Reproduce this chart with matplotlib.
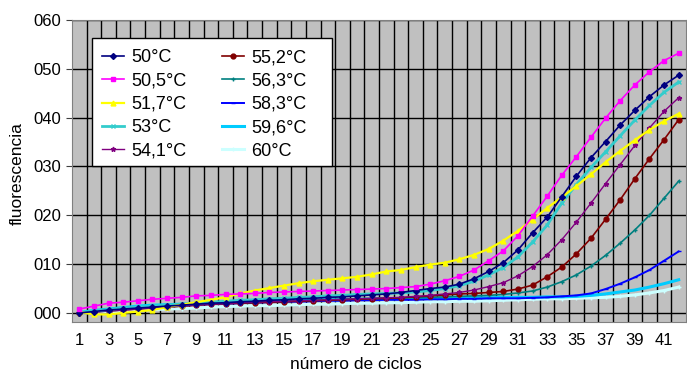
import numpy as np
import matplotlib
matplotlib.use('Agg')
import matplotlib.pyplot as plt
from matplotlib.patches import Rectangle

plt.rcParams['font.family'] = ['Liberation Sans', 'DejaVu Sans']

ciclos = np.arange(1, 43)

t50 = [0.0, 0.3, 0.6, 0.8, 1.0, 1.2, 1.4, 1.6, 1.8, 2.0, 2.1, 2.3, 2.4, 2.6, 2.7,
       2.9, 3.0, 3.2, 3.3, 3.5, 3.7, 3.9, 4.2, 4.6, 5.0, 5.3, 5.9, 7.0, 8.5, 10.3,
       12.9, 16.4, 19.6, 23.8, 28.0, 31.8, 35.1, 38.5, 41.5, 44.3, 46.7, 48.7]
t50_5 = [0.8, 1.4, 2.0, 2.2, 2.5, 2.8, 3.0, 3.2, 3.5, 3.6, 3.8, 3.9, 4.0, 4.2, 4.3,
         4.4, 4.5, 4.6, 4.7, 4.8, 4.9, 5.0, 5.2, 5.4, 5.9, 6.6, 7.5, 8.8, 10.7, 12.7,
         15.8, 19.8, 23.9, 28.2, 32.0, 36.0, 39.9, 43.5, 46.7, 49.4, 51.7, 53.2]
t51_7 = [0.2, -0.3, -0.3, 0.0, 0.3, 0.6, 1.2, 1.7, 2.2, 2.7, 3.2, 4.0, 4.6, 5.1, 5.6,
         6.1, 6.5, 6.8, 7.1, 7.4, 7.9, 8.5, 8.8, 9.4, 9.9, 10.3, 11.0, 11.9, 13.1, 14.8,
         16.8, 19.1, 21.5, 23.7, 26.0, 28.4, 30.9, 33.2, 35.4, 37.5, 39.3, 40.8]
t53 = [0.1, 0.4, 0.7, 1.0, 1.2, 1.4, 1.6, 1.8, 2.0, 2.2, 2.4, 2.6, 2.7, 2.9, 3.0,
       3.2, 3.3, 3.5, 3.6, 3.8, 3.9, 4.0, 4.1, 4.3, 4.6, 5.0, 5.6, 6.5, 7.8, 9.3,
       11.5, 14.5, 18.0, 22.5, 26.3, 29.8, 33.0, 36.3, 39.5, 42.5, 45.2, 47.3]
t54_1 = [0.0, 0.2, 0.4, 0.6, 0.8, 1.0, 1.2, 1.4, 1.6, 1.8, 1.9, 2.1, 2.2, 2.3, 2.4,
         2.5, 2.6, 2.7, 2.8, 2.9, 3.0, 3.1, 3.2, 3.4, 3.6, 3.9, 4.2, 4.7, 5.4, 6.2,
         7.6, 9.5, 11.9, 15.0, 18.6, 22.5, 26.5, 30.4, 34.3, 37.9, 41.3, 44.1]
t55_2 = [0.0, 0.2, 0.4, 0.6, 0.8, 1.0, 1.2, 1.4, 1.6, 1.8, 1.9, 2.0, 2.1, 2.2, 2.3,
         2.4, 2.5, 2.6, 2.7, 2.8, 2.9, 3.0, 3.1, 3.3, 3.5, 3.7, 3.9, 4.0, 4.2, 4.4,
         4.9, 5.7, 7.4, 9.4, 12.1, 15.3, 19.2, 23.2, 27.5, 31.6, 35.5, 39.6]
t56_3 = [0.0, 0.3, 0.6, 0.8, 1.0, 1.2, 1.4, 1.6, 1.8, 1.9, 2.0, 2.1, 2.2, 2.3, 2.4,
         2.5, 2.6, 2.7, 2.8, 2.9, 3.0, 3.0, 3.1, 3.1, 3.2, 3.3, 3.4, 3.5, 3.6, 3.8,
         4.1, 4.5, 5.3, 6.4, 7.8, 9.6, 11.8, 14.3, 17.0, 20.0, 23.5, 27.0]
t58_3 = [0.0, 0.3, 0.5, 0.8, 1.0, 1.2, 1.4, 1.5, 1.7, 1.8, 1.9, 2.0, 2.1, 2.2, 2.3,
         2.3, 2.4, 2.5, 2.5, 2.6, 2.6, 2.7, 2.7, 2.7, 2.8, 2.8, 2.9, 2.9, 3.0, 3.0,
         3.0, 3.1, 3.2, 3.4, 3.6, 4.0, 4.9, 6.0, 7.3, 8.8, 10.7, 12.6]
t59_6 = [0.1, 0.5, 0.8, 1.1, 1.4, 1.6, 1.7, 1.8, 1.9, 2.0, 2.1, 2.2, 2.3, 2.4, 2.5,
         2.6, 2.6, 2.7, 2.7, 2.8, 2.8, 2.9, 2.9, 3.0, 3.0, 3.0, 3.1, 3.1, 3.1, 3.2,
         3.2, 3.2, 3.3, 3.3, 3.4, 3.6, 3.9, 4.3, 4.7, 5.3, 6.0, 6.8]
t60 = [0.0, 0.1, 0.2, 0.4, 0.6, 0.7, 0.8, 0.9, 1.0, 1.2, 1.3, 1.4, 1.5, 1.5, 1.6,
       1.7, 1.8, 1.8, 1.9, 2.0, 2.0, 2.1, 2.1, 2.2, 2.3, 2.3, 2.4, 2.4, 2.5, 2.6,
       2.7, 2.8, 2.9, 2.9, 3.0, 3.1, 3.2, 3.4, 3.7, 4.1, 4.6, 5.3]

etiquetas = ['50°C', '50,5°C', '51,7°C', '53°C', '54,1°C',
             '55,2°C', '56,3°C', '58,3°C', '59,6°C', '60°C']
series = [t50, t50_5, t51_7, t53, t54_1, t55_2, t56_3, t58_3, t59_6, t60]

colores = ['#000080', '#FF00FF', '#FFFF00', '#33CCCC', '#800080',
           '#800000', '#008080', '#0000FF', '#00CCFF', '#CCFFFF']
marcadores = ['D', 's', '^', 'x', '*', 'o', '+', '_', '', '+']
tamanos = [3, 3.5, 3.5, 3, 3.5, 3.5, 3.5, 3, 0, 3]
grosores = [1.2, 1.2, 1.6, 2.0, 1.0, 1.2, 1.2, 1.4, 2.2, 2.2]

fig = plt.figure(figsize=(6.87, 3.74), dpi=100)
ax = fig.add_axes([72 / 687, 1 - 322 / 374, 614 / 687, 302 / 374])
ax.set_facecolor('#C0C0C0')

orden_dibujo = [9, 8, 7, 6, 5, 4, 3, 2, 0, 1]
lineas = [None] * len(series)
for i in orden_dibujo:
    lineas[i], = ax.plot(ciclos, series[i], color=colores[i], marker=marcadores[i],
                         markersize=tamanos[i], linewidth=grosores[i], label=etiquetas[i])

ax.set_xlim(0.5, 42.5)
ax.set_ylim(-1.85, 60)
ax.set_xticks(np.arange(1, 43, 2))
ax.set_xticks(np.arange(1.5, 42, 1), minor=True)
ax.set_yticks(np.arange(0, 61, 10))
ax.set_yticklabels(['%03d' % v for v in range(0, 61, 10)])
ax.tick_params(axis='x', which='both', length=0, labelsize=12, pad=8)
ax.tick_params(axis='y', length=4, labelsize=12, color='#404040')
ax.grid(True, which='minor', axis='x', color='black', linewidth=1.0)
ax.grid(True, which='major', axis='y', color='black', linewidth=1.0)
ax.set_axisbelow(True)
for s in ax.spines.values():
    s.set_color('#808080')

ax.set_xlabel('número de ciclos', fontsize=12.5)
ax.set_ylabel('fluorescencia', fontsize=12.5)
ax.xaxis.set_label_coords(0.4625, -0.115)
ax.yaxis.set_label_coords(-0.0765, 0.493)

# caja blanca de la leyenda (más ancha que su contenido, como en Excel)
caja = Rectangle((92 / 687, 1 - 166 / 374), 240 / 687, 128 / 374,
                 transform=fig.transFigure, facecolor='white', edgecolor='black',
                 linewidth=1.0, zorder=4)
ax.add_artist(caja)

leg = ax.legend(lineas, etiquetas, ncol=2, loc='upper left',
                bbox_to_anchor=(95 / 687, 1 - 42 / 374), bbox_transform=fig.transFigure,
                borderaxespad=0, prop={'size': 13}, frameon=False,
                handlelength=1.2, handletextpad=0.4,
                columnspacing=2.0, labelspacing=0.35, borderpad=0.4)
leg.set_zorder(5)

fig.savefig('out.png', dpi=100)
